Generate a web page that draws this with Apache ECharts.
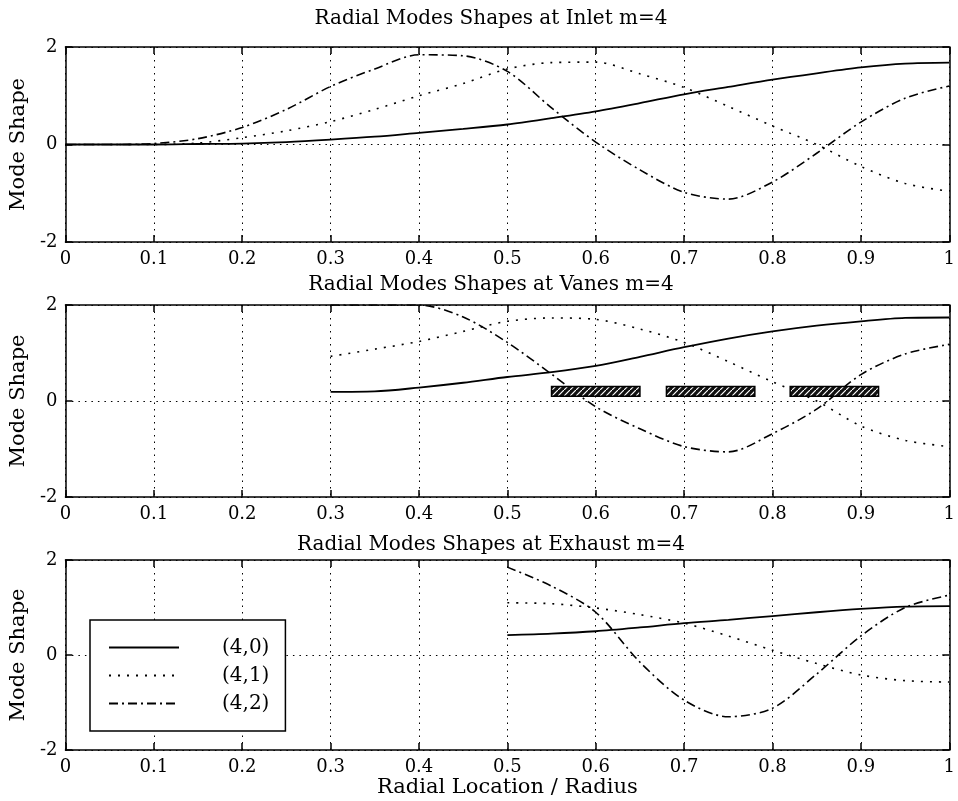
<!DOCTYPE html>
<html>
<head>
<meta charset="utf-8">
<script src="https://cdn.jsdelivr.net/npm/echarts@6/dist/echarts.min.js"></script>
<style>
  html, body { margin: 0; padding: 0; background: #fff; }
  #main { width: 958px; height: 801px; }
</style>
</head>
<body>
<div id="main"></div>
<script>
// panel titles
const titles = [
    "Radial Modes Shapes at Inlet m=4",
    "Radial Modes Shapes at Vanes m=4",
    "Radial Modes Shapes at Exhaust m=4"
];
const modeNames = ["(4,0)", "(4,1)", "(4,2)"];

// inlet
const inletX = [0, 0.05, 0.1, 0.15, 0.2, 0.25, 0.3, 0.35, 0.4, 0.45, 0.5, 0.55, 0.6, 0.65, 0.7, 0.75, 0.8, 0.85, 0.9, 0.95, 1];
const inlet40 = [0, 0, 0, 0.01, 0.02, 0.05, 0.1, 0.16, 0.24, 0.32, 0.41, 0.54, 0.68, 0.85, 1.03, 1.18, 1.33, 1.46, 1.58, 1.66, 1.68];
const inlet41 = [0, 0, 0, 0.03, 0.14, 0.28, 0.47, 0.72, 1.0, 1.25, 1.55, 1.68, 1.69, 1.45, 1.17, 0.78, 0.38, 0.0, -0.45, -0.8, -0.96];
const inlet42 = [0, 0, 0.02, 0.12, 0.35, 0.72, 1.19, 1.55, 1.84, 1.82, 1.5, 0.75, 0.05, -0.52, -0.98, -1.12, -0.77, -0.18, 0.46, 0.95, 1.2];

// vanes
const vanesX = [0.3, 0.35, 0.4, 0.45, 0.5, 0.55, 0.6, 0.65, 0.7, 0.75, 0.8, 0.85, 0.9, 0.95, 1];
const vanes40 = [0.19, 0.2, 0.28, 0.38, 0.5, 0.6, 0.73, 0.92, 1.12, 1.3, 1.45, 1.57, 1.66, 1.73, 1.74];
const vanes41 = [0.93, 1.08, 1.24, 1.45, 1.66, 1.73, 1.7, 1.5, 1.22, 0.82, 0.4, 0.0, -0.52, -0.82, -0.95];
const vanes42 = [2.0, 2.0, 2.0, 1.75, 1.22, 0.56, -0.12, -0.58, -0.95, -1.06, -0.68, -0.17, 0.55, 0.98, 1.18];

// vane rows (hatched blocks)
const vaneStart = [0.55, 0.68, 0.82];
const vaneEnd = [0.65, 0.78, 0.92];
const vaneLow = [0.1, 0.1, 0.1];
const vaneHigh = [0.3, 0.3, 0.3];

// exhaust
const exhaustX = [0.5, 0.55, 0.6, 0.65, 0.7, 0.75, 0.8, 0.85, 0.9, 0.95, 1];
const exhaust40 = [0.42, 0.45, 0.5, 0.58, 0.67, 0.74, 0.82, 0.9, 0.97, 1.02, 1.03];
const exhaust41 = [1.1, 1.08, 0.99, 0.85, 0.67, 0.4, 0.1, -0.18, -0.42, -0.54, -0.57];
const exhaust42 = [1.85, 1.45, 0.9, -0.15, -0.95, -1.3, -1.12, -0.4, 0.4, 1.0, 1.26];

const FONT = "DejaVu Serif";
const lineTypes = ["solid", [2, 7], [9, 4, 2, 4]];

const grids = [
    { left: 64, top: 47, width: 886, height: 195 },
    { left: 64, top: 305, width: 886, height: 192 },
    { left: 64, top: 560, width: 886, height: 190 }
];

const hatch = document.createElement("canvas");
hatch.width = 6;
hatch.height = 6;
(function () {
    const c = hatch.getContext("2d");
    c.fillStyle = "#111";
    c.fillRect(0, 0, 6, 6);
    c.strokeStyle = "#fff";
    c.lineWidth = 1.2;
    c.beginPath();
    c.moveTo(0, 6);
    c.lineTo(6, 0);
    c.stroke();
})();

const chart = echarts.init(document.getElementById("main"));

const edge = { onZero: false, lineStyle: { color: "#000", width: 1.5 } };
const tick = { inside: true, length: 7, lineStyle: { color: "#000", width: 1.5 } };
const grid_line = { show: true, lineStyle: { color: "#000", type: [1.5, 5], width: 1 } };

const xAxes = [];
const yAxes = [];
grids.forEach((g, i) => {
    xAxes.push({
        type: "value", gridIndex: i, min: 0, max: 1, interval: 0.1, position: "bottom",
        axisLine: edge, axisTick: tick,
        axisLabel: {
            color: "#000", fontFamily: FONT, fontSize: 18, margin: 8,
            formatter: (v) => String(+v.toFixed(1))
        },
        splitLine: grid_line,
        name: i === 2 ? "Radial Location / Radius" : "",
        nameLocation: "middle", nameGap: 27,
        nameTextStyle: { color: "#000", fontFamily: FONT, fontSize: 21 }
    });
    xAxes.push({
        type: "value", gridIndex: i, min: 0, max: 1, interval: 0.1, position: "top",
        axisLine: edge, axisTick: tick,
        axisLabel: { show: false },
        splitLine: { show: false }
    });
    yAxes.push({
        type: "value", gridIndex: i, min: -2, max: 2, interval: 2, position: "left",
        axisLine: edge, axisTick: tick,
        axisLabel: { color: "#000", fontFamily: FONT, fontSize: 18, margin: 8 },
        splitLine: grid_line,
        name: "Mode Shape", nameLocation: "middle", nameGap: 30,
        nameTextStyle: { color: "#000", fontFamily: FONT, fontSize: 21 }
    });
    yAxes.push({
        type: "value", gridIndex: i, min: -2, max: 2, interval: 2, position: "right",
        axisLine: edge, axisTick: tick,
        axisLabel: { show: false },
        splitLine: { show: false }
    });
});

const panels = [
    [inletX, [inlet40, inlet41, inlet42]],
    [vanesX, [vanes40, vanes41, vanes42]],
    [exhaustX, [exhaust40, exhaust41, exhaust42]]
];

const series = [];
panels.forEach(([xs, ys], p) => {
    ys.forEach((vals, k) => {
        series.push({
            type: "line", name: modeNames[k],
            xAxisIndex: p * 2, yAxisIndex: p * 2,
            data: xs.map((x, j) => [x, vals[j]]),
            smooth: 0.3, symbol: "none",
            itemStyle: { color: "#000" },
            lineStyle: { color: "#000", width: k === 0 ? 1.8 : 1.6, type: lineTypes[k] },
            z: 3
        });
    });
});

series.push({
    type: "custom", name: "vanes",
    xAxisIndex: 2, yAxisIndex: 2,
    data: vaneStart.map((s, i) => [s, vaneEnd[i], vaneLow[i], vaneHigh[i]]),
    renderItem: (params, api) => {
        const p0 = api.coord([api.value(0), api.value(3)]);
        const p1 = api.coord([api.value(1), api.value(2)]);
        return {
            type: "rect",
            shape: { x: p0[0], y: p0[1], width: p1[0] - p0[0], height: p1[1] - p0[1] },
            style: { fill: { image: hatch, repeat: "repeat" }, stroke: "#000", lineWidth: 1.5 }
        };
    },
    z: 4
});

chart.setOption({
    animation: false,
    backgroundColor: "#fff",
    title: titles.map((t, i) => ({
        text: t, left: 486, textAlign: "center",
        top: [4, 270, 530][i],
        textStyle: { color: "#000", fontFamily: FONT, fontSize: 20, fontWeight: "normal" }
    })),
    grid: grids,
    xAxis: xAxes,
    yAxis: yAxes,
    legend: {
        data: modeNames,
        orient: "vertical", left: 90, top: 620,
        itemWidth: 70, itemHeight: 14, itemGap: 7,
        padding: [17, 16, 17, 18],
        backgroundColor: "#fff", borderColor: "#000", borderWidth: 1.5,
        selectedMode: false,
        itemStyle: { opacity: 0 },
        textStyle: { color: "#000", fontFamily: FONT, fontSize: 20, lineHeight: 21, padding: [0, 0, 0, 38] }
    },
    series: series
});
</script>
</body>
</html>
